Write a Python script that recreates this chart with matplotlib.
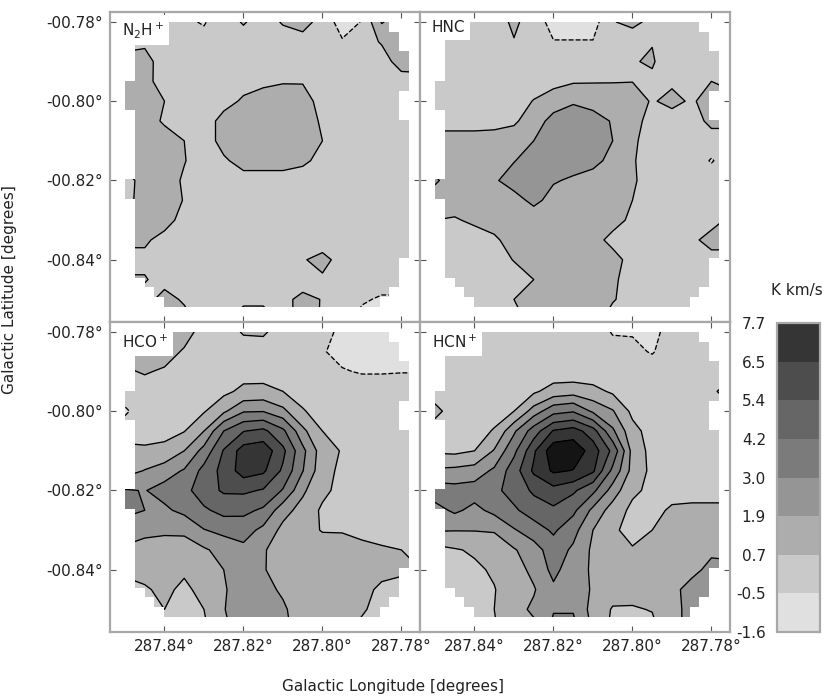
import numpy as np
import matplotlib
matplotlib.use('Agg')
import matplotlib.pyplot as plt
from matplotlib.colors import ListedColormap, BoundaryNorm
from matplotlib.cm import ScalarMappable
from matplotlib.patches import PathPatch
from matplotlib.path import Path

plt.rcParams['axes.unicode_minus'] = False
plt.rcParams['contour.negative_linestyle'] = 'dashed'

# map grid, degrees
lon = [287.85, 287.845, 287.84, 287.835, 287.83, 287.825, 287.82, 287.815,
       287.81, 287.805, 287.80, 287.795, 287.79, 287.785, 287.78, 287.775]
lat = [-0.78, -0.785, -0.79, -0.795, -0.80, -0.805, -0.81, -0.815,
       -0.82, -0.825, -0.83, -0.835, -0.84, -0.845, -0.85, -0.855]

# integrated intensity, K km/s
n2h_map = [
    [.2, .2, .2, -.3, -.6, .2, .8, .2, .8, 1.2, .2, -1, -.45, 2.0, 1.2, 1.2],
    [.2, .44, .2, .2, -.1, .2, .2, .2, .2, .2, .2, -.4, .2, .8, 1.2, 1.2],
    [1.2, 1.2, .04, .2, .2, .2, .2, .2, .2, .2, .2, .2, .2, .2, 1.2, 1.2],
    [1.2, 1.2, 0, .2, .2, .2, .2, .46, .63, .62, .2, .2, .2, .2, .2, .3],
    [1.2, 1.2, .7, .2, .2, .2, .9, 1.2, 1.2, 1.2, .26, .2, .2, .2, .2, .2],
    [1.2, 1.2, .55, .2, 0, 1.2, 1.2, 1.2, 1.2, 1.2, .56, .2, .2, .2, .2, .2],
    [1.2, 1.2, 1.2, .7, 0, 1.2, 1.2, 1.2, 1.2, 1.2, .7, .2, .2, .2, .2, .2],
    [1.2, 1.2, 1.2, .75, .2, .5, 1.2, 1.2, 1.2, .9, .4, .2, .2, .2, .2, .2],
    [.2, 1.2, 1.2, .56, .2, .2, .2, .2, .2, .2, .2, .2, .2, .2, .2, .2],
    [.3, 1.2, 1.2, .65, .2, .2, .2, .2, .2, .2, .2, .2, .2, .2, .2, .2],
    [1.2, 1.2, 1.2, .24, .2, .2, .2, .2, .2, .2, .2, .2, .2, .2, .2, .2],
    [.9, .9, .27, .2, .2, .2, .2, .2, .2, .2, .17, .2, .2, .2, .2, .2],
    [.39, .39, .2, .2, .2, .2, .2, .2, .2, .62, 1.0, .33, .2, .2, .2, .2],
    [.8, .8, .2, .2, .2, .2, .2, .2, .2, -.2, .55, .2, .2, .2, .2, .2],
    [.2, .2, 1.2, .5, .2, .2, .2, .2, .2, 1.2, .62, .2, -.3, -.7, -.7, -.7],
    [.2, 1.2, 1.2, 1.2, .2, .2, 1.7, 1.7, .2, 1.2, .6, .2, -1, -1, -1, -1],
]
hnc_map = [
    [.2, .2, .2, .2, .9, .2, -1, -1, -1, .6, 1.2, .2, .2, .2, .2, .2],
    [.2, .2, .2, .2, .65, .2, -.45, -.45, -.45, .2, -.4, .66, .2, .2, .2, .2],
    [.2, .2, .2, .2, .2, .2, .2, .2, .2, .2, .64, .8, .1, .2, .2, .2],
    [.2, .2, .2, .2, .2, .2, .4, .58, .63, .66, .68, .52, .52, .2, .7, .3],
    [.2, .2, .2, .2, .2, .75, 1.2, 1.8, 1.46, 1.2, 1.2, .6, 1.0, .55, 1.2, 1.2],
    [.2, .2, .2, .3, .55, 1.2, 2.4, 2.4, 2.4, 1.8, 1.2, .2, .2, .2, 1.0, 1.0],
    [1.2, 1.2, 1.2, 1.2, 1.2, 1.9, 2.4, 2.4, 2.4, 1.9, .9, .2, .2, .2, .2, .2],
    [1.2, 1.2, 1.2, 1.2, 1.85, 2.4, 2.4, 2.4, 2.4, 1.4, .8, .2, .2, .2, -.6, .2],
    [2.1, 1.2, 1.2, 1.75, 2.4, 2.4, 2.0, 1.74, 1.2, 1.2, .85, .2, .2, .2, .2, .2],
    [1.2, 1.2, 1.2, 1.2, 1.46, 2.2, 1.5, 1.2, 1.2, 1.2, .7, .2, .2, .2, .2, .2],
    [.7, .6, .9, 1.2, 1.2, 1.2, 1.2, 1.2, 1.2, 1.2, .41, .2, .2, .2, .2, 1.0],
    [.2, .2, .2, .5, 1.2, 1.2, 1.2, 1.2, 1.2, .3, .2, .2, .2, .4, 1.2, 1.2],
    [.2, .2, .2, .2, .75, 1.2, 1.2, 1.2, 1.2, 1.2, .2, .2, .2, .2, .2, .2],
    [.2, .2, .2, .2, .2, .7, 1.2, 1.2, 1.2, .9, .2, .2, .2, .2, .2, .2],
    [.2, .2, .2, .2, .7, 1.2, 1.2, 1.2, 1.2, .8, .2, .2, .2, .2, .2, .2],
    [.2, .2, .2, .2, .2, 1.2, 1.2, 1.2, 1.2, .2, .2, .2, .2, .2, .2, .2],
]
hco_map = [
    [1.2, 1.2, 1.2, 1.2, .2, .2, .8, .85, .2, .2, .2, -1, -1, -1, -1, -1],
    [1.2, 1.2, 1.2, .56, .2, .2, .2, .2, .2, .2, -.4, -.9, -.9, -.9, -.9, -.9],
    [.55, .8, .55, .2, .2, .2, .2, .1, .2, .2, .2, -.4, -.6, -.6, -.55, -.55],
    [.2, .2, .2, .2, .2, .4, 1.0, 1.1, .7, .2, .2, .2, .2, .2, .2, .2],
    [-.7, .2, .2, .2, .6, 1.7, 2.9, 2.95, 2.2, .8, .2, .2, .2, .2, .2, .2],
    [.2, .2, .35, .65, 1.9, 4.2, 5.35, 5.7, 4.45, 2.2, .7, .2, .2, .2, .2, .2],
    [1.0, .9, 1.0, 1.9, 3.4, 5.5, 7.0, 7.2, 5.7, 3.3, 1.3, .6, .2, .2, .2, .2],
    [1.4, 1.95, 2.5, 3.1, 4.6, 5.8, 7.0, 6.7, 5.2, 3.05, 1.2, .4, .2, .2, .2, .2],
    [3.1, 2.95, 3.4, 3.8, 4.9, 5.55, 5.6, 5.3, 4.1, 2.1, 1.0, .3, .2, .2, .2, .2],
    [3.4, 3.0, 2.8, 3.3, 4.0, 4.6, 4.5, 4.0, 2.3, 1.5, .5, .2, .2, .2, .2, .2],
    [2.2, 2.1, 2.05, 2.05, 2.95, 3.3, 3.5, 2.7, 1.6, 1.0, .65, .65, .45, .2, .3, .2],
    [1.8, 1.6, 1.5, 1.55, 1.75, 2.3, 2.7, 2.0, 1.4, 1.2, 1.1, 1.0, .95, .85, .7, .5],
    [1.0, 1.0, .9, .85, 1.2, 1.9, 2.3, 2.0, 1.3, 1.1, 1.1, 1.1, 1.1, 1.0, .9, .7],
    [.2, .6, .9, .5, 1.0, 1.8, 2.4, 2.3, 1.7, 1.2, 1.1, 1.1, 1.0, .5, .3, .2],
    [.2, .2, .7, .2, .7, 1.85, 2.5, 2.6, 2.1, 1.2, 1.1, 1.0, .8, .4, .2, .2],
    [.2, .2, .2, .2, .5, 1.6, 2.6, 2.7, 2.3, 1.2, 1.0, .9, .5, 0, .2, .2],
]
hcn_map = [
    [.2, .2, .2, .2, .2, .2, .2, .2, .2, -.6, -.6, -1, .2, .2, .2, .2],
    [.2, .2, .2, .2, .2, .2, .2, .2, .2, 0, -.2, -.6, .2, .2, .2, .2],
    [.2, .2, .2, .2, .2, .2, 0, -.1, -.1, .2, .2, .2, .2, .2, .2, .4],
    [.2, .2, .2, .2, .2, .5, 1.2, 1.4, 1.1, .5, .2, .2, .2, .2, .5, 1.2],
    [1.0, .2, .2, .2, .7, 2.4, 3.8, 4.1, 2.8, 2.0, .4, .2, .2, .2, .2, .4],
    [.2, .2, .2, .8, 2.8, 4.8, 6.6, 7.0, 5.9, 3.2, 1.1, .2, .2, .2, .2, .2],
    [.5, .4, .7, 2.0, 3.9, 6.3, 8.5, 8.6, 7.1, 5.1, 1.5, .3, .2, .2, .2, .2],
    [2.1, 2.2, 2.4, 3.2, 4.85, 6.7, 7.9, 7.65, 6.7, 3.9, 1.5, .4, .2, .2, .2, .2],
    [3.6, 3.4, 3.5, 3.9, 4.7, 5.6, 6.1, 5.6, 4.5, 2.5, .95, .4, .2, .2, .2, .2],
    [2.6, 3.2, 2.7, 3.3, 4.0, 4.8, 5.2, 4.5, 2.7, 1.4, .4, .3, .9, 1.0, 1.0, 1.0],
    [2.0, 1.95, 1.95, 2.0, 2.9, 3.6, 4.4, 3.4, 1.9, .8, .5, .7, 1.0, 1.05, 1.05, 1.05],
    [.3, .6, .85, 1.2, 1.8, 2.5, 3.6, 2.8, 1.7, 1.0, .75, 1.0, 1.1, 1.1, 1.7, 1.6],
    [.2, .3, .5, .85, 1.4, 2.2, 3.3, 2.4, 1.75, 1.1, 1.1, 1.1, 1.2, 1.6, 2.2, 2.2],
    [.2, .2, .2, .65, 1.3, 1.8, 2.8, 2.4, 1.8, 1.2, 1.1, 1.1, 1.6, 2.3, 2.3, 2.3],
    [.2, .2, .2, .7, 1.5, 2.1, 2.9, 2.9, 1.5, .6, .6, .75, 1.5, 2.3, 2.3, 2.3],
    [.2, .2, .2, .6, 1.3, 1.6, 3.4, 3.4, 1.7, .4, .4, .4, 1.5, 2.3, 2.3, 2.3],
]

# observed footprint: first and last+1 map cell of each row
row_start = [1, 1, 1, 1, 1, 1, 0, 0, 0, 1, 1, 1, 1, 1, 1, 1, 0, 0, 1, 1, 1, 1, 1, 1, 1, 1, 2, 3, 4]
row_end = [27, 28, 28, 29, 29, 29, 29, 28, 28, 28, 29, 29, 29, 29, 29, 29, 29, 29, 29, 29, 29, 29, 29, 29,
           28, 28, 28, 27, 26]

levels = [-1.6, -0.5, 0.7, 1.9, 3.0, 4.2, 5.4, 6.5, 7.7]
level_labels = ['-1.6', '-0.5', '0.7', '1.9', '3.0', '4.2', '5.4', '6.5', '7.7']
greys = ['#e0e0e0', '#c9c9c9', '#adadad', '#959595', '#7b7b7b', '#666666', '#4d4d4d', '#353535']
peak_grey = '#141414'

lon_ticks = [287.84, 287.82, 287.80, 287.78]
lat_ticks = [-0.78, -0.80, -0.82, -0.84]
lon_ticklabels = ['287.84°', '287.82°', '287.80°', '287.78°']
lat_ticklabels = ['-00.78°', '-00.80°', '-00.82°', '-00.84°']

maps = [n2h_map, hnc_map, hco_map, hcn_map]
names = ['N$_2$H$^+$', 'HNC', 'HCO$^+$', 'HCN$^+$']

W, H = 830, 699
cell = 0.00248
text_col = '#222222'
frame_col = '#a8a8a8'


def footprint_path():
    # walk down the right edge and back up the left edge
    verts = []
    for r, e in enumerate(row_end):
        verts.append((lon[0] - e * cell, lat[0] - r * cell))
        verts.append((lon[0] - e * cell, lat[0] - (r + 1) * cell))
    for r in range(len(row_start) - 1, -1, -1):
        verts.append((lon[0] - row_start[r] * cell, lat[0] - (r + 1) * cell))
        verts.append((lon[0] - row_start[r] * cell, lat[0] - r * cell))
    verts.append(verts[0])
    codes = [Path.MOVETO] + [Path.LINETO] * (len(verts) - 2) + [Path.CLOSEPOLY]
    return Path(verts, codes)


def px_axes(left, top, right, bottom):
    return fig.add_axes([left / W, 1 - bottom / H, (right - left) / W, (bottom - top) / H])


fig = plt.figure(figsize=(8.30, 6.99), dpi=100)
boxes = [(110, 12, 420, 322), (420, 12, 730, 322), (110, 322, 420, 632), (420, 322, 730, 632)]

for k in range(4):
    ax = px_axes(*boxes[k])
    clip = PathPatch(footprint_path(), transform=ax.transData, fc='none', ec='none')
    ax.add_patch(clip)
    cf = ax.contourf(lon, lat, np.array(maps[k]), levels=levels, colors=greys + [peak_grey], extend='max')
    cl = ax.contour(lon, lat, np.array(maps[k]), levels=levels[1:], colors='k', linewidths=0.95)
    cf.set_clip_path(clip)
    cl.set_clip_path(clip)
    ax.set_xlim(287.8538, 287.7753)
    ax.set_ylim(-0.8557, -0.7775)
    ax.set_xticks(lon_ticks)
    ax.set_yticks(lat_ticks)
    ax.set_xticklabels(lon_ticklabels if k >= 2 else [])
    ax.set_yticklabels(lat_ticklabels if k % 2 == 0 else [])
    ax.tick_params(direction='in', top=True, right=True, length=4, width=0.8, color='#555555',
                   labelsize=11, labelcolor=text_col, pad=5)
    for s in ax.spines.values():
        s.set_color(frame_col)
        s.set_linewidth(1.6)
    ax.text(287.8508, -0.7795 if k < 2 else -0.7805, names[k], fontsize=11, color=text_col, va='top', ha='left',
            bbox=dict(fc='white', ec='none', boxstyle='square,pad=0.3'), zorder=5)

fig.text(393 / W, 1 - 686 / H, 'Galactic Longitude [degrees]', fontsize=11, color=text_col, ha='center', va='center')
fig.text(10 / W, 1 - 290 / H, 'Galactic Latitude [degrees]', fontsize=11, color=text_col, ha='center', va='center',
         rotation=90)

cax = px_axes(777, 323, 820, 632)
sm = ScalarMappable(norm=BoundaryNorm(levels, len(greys)), cmap=ListedColormap(greys))
cb = fig.colorbar(sm, cax=cax, ticks=levels)
cb.ax.yaxis.set_ticks_position('left')
cb.set_ticklabels(level_labels)
cb.ax.tick_params(length=0, labelsize=11, labelcolor=text_col, pad=8)
cb.outline.set_edgecolor(frame_col)
cb.outline.set_linewidth(1.6)
fig.text(797 / W, 1 - 290 / H, 'K km/s', fontsize=11, color=text_col, ha='center', va='center')

fig.savefig('out.png', dpi=100)
